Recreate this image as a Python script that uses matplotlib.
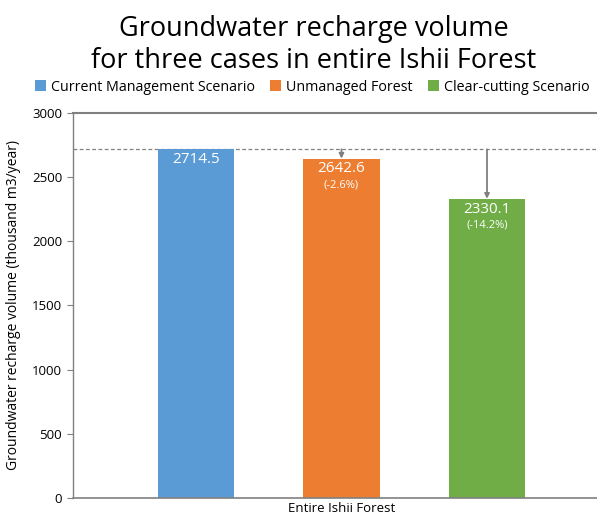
import matplotlib.pyplot as plt

plt.rcParams['font.family'] = ['Open Sans', 'DejaVu Sans']

scenarios = ['Current Management Scenario', 'Unmanaged Forest', 'Clear-cutting Scenario']
recharge = [2714.5, 2642.6, 2330.1]
change_labels = ['', '(-2.6%)', '(-14.2%)']
colors = ['#5B9BD5', '#ED7D31', '#70AD47']
positions = [-1, 0, 1]

fig = plt.figure(figsize=(5.97, 5.18), dpi=100)
ax = fig.add_axes([0.1228, 0.0386, 1 - 0.1228, 0.7438])

ax.bar(positions, recharge, width=0.526, color=colors, label=scenarios, zorder=2)

ax.set_xlim(-1.843, 1.756)
ax.set_ylim(0, 3000)
ax.set_yticks(range(0, 3001, 500))
ax.set_xticks([])
ax.tick_params(axis='y', length=4, color='#808080', labelsize=9.5, pad=4)

ax.spines['right'].set_visible(False)
for side in ['left', 'bottom', 'top']:
    ax.spines[side].set_color('#808080')
ax.spines['left'].set_linewidth(1.0)
ax.spines['bottom'].set_linewidth(1.2)
ax.spines['top'].set_linewidth(1.5)

# baseline reference: current management value
ax.axhline(recharge[0], color='#808080', linestyle=(0, (3, 2)), linewidth=0.9, zorder=1)

# arrows from the baseline down to the other scenarios
for x, v in zip(positions[1:], recharge[1:]):
    ax.annotate('', xy=(x, v), xytext=(x, recharge[0]),
                arrowprops=dict(arrowstyle='-|>', color='#808080', lw=1.3,
                                mutation_scale=7, shrinkA=0, shrinkB=0),
                zorder=3)

for x, v, c in zip(positions, recharge, change_labels):
    ax.text(x, v - 80, f'{v:.1f}', ha='center', va='center', color='white', fontsize=11)
    if c:
        ax.text(x, v - 208, c, ha='center', va='center', color='white', fontsize=8)

ax.set_ylabel('Groundwater recharge volume (thousand m3/year)', fontsize=10, labelpad=8)
ax.text(0, -0.027, 'Entire Ishii Forest', transform=ax.get_xaxis_transform(),
        ha='center', va='center', fontsize=9.5)

fig.text(0.526, 0.972, 'Groundwater recharge volume\nfor three cases in entire Ishii Forest',
         ha='center', va='top', fontsize=19.5, linespacing=1.2)

fig.legend(loc='center', bbox_to_anchor=(0.523, 0.832), ncol=3, frameon=False,
           fontsize=10.3, handlelength=0.75, handleheight=0.75, handletextpad=0.35,
           columnspacing=1.1)

fig.savefig('out.png', dpi=100)
